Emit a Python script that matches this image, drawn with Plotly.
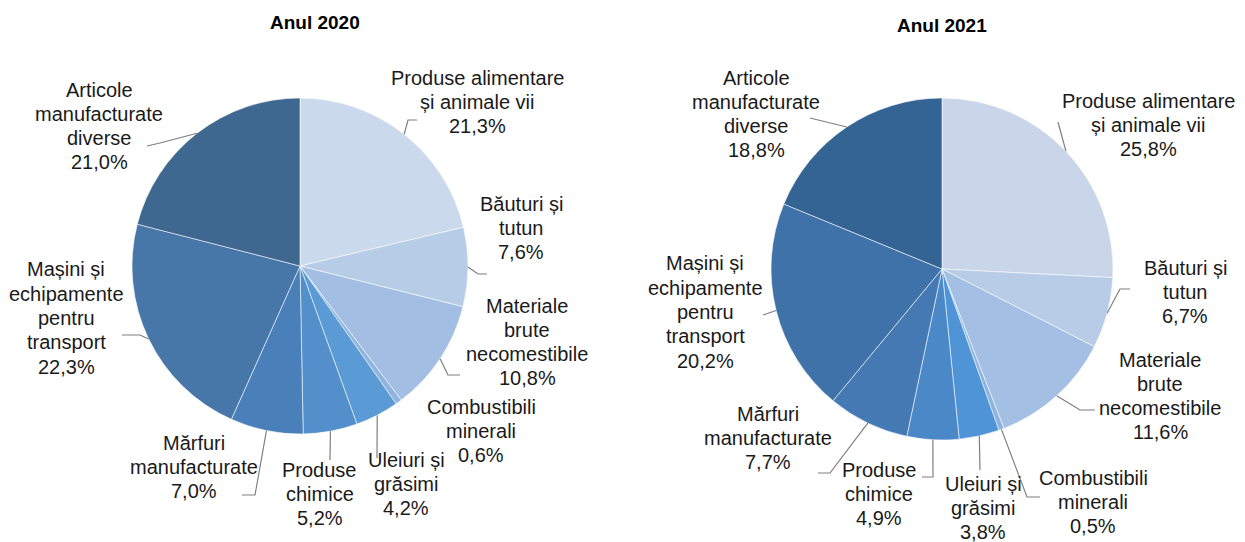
import math
import plotly.graph_objects as go

# ---------------- data ----------------
categories = [
    "Produse alimentare<br>și animale vii",
    "Băuturi și<br>tutun",
    "Materiale<br>brute<br>necomestibile",
    "Combustibili<br>minerali",
    "Uleiuri și<br>grăsimi",
    "Produse<br>chimice",
    "Mărfuri<br>manufacturate",
    "Mașini și<br>echipamente<br>pentru<br>transport",
    "Articole<br>manufacturate<br>diverse",
]
values_2020 = [21.3, 7.6, 10.8, 0.6, 4.2, 5.2, 7.0, 22.3, 21.0]
values_2021 = [25.8, 6.7, 11.6, 0.5, 3.8, 4.9, 7.7, 20.2, 18.8]
titles = ["Anul 2020", "Anul 2021"]

colors_2020 = ["#CBD9EC", "#B7CCE7", "#A2BEE2", "#8FB4E0", "#5A9BD6",
               "#5390CB", "#4A80B9", "#4677A8", "#3E6890"]
colors_2021 = ["#C9D6EA", "#B8CCE8", "#A3BFE3", "#8FB3E0", "#4E94D6",
               "#4A88C8", "#4479B4", "#3F72A8", "#336493"]

# ---------------- layout (pixels) ----------------
W, H = 1245, 542
LINE_H = 24.3
pies = [
    dict(cx=300, cy=266, r=168,
         title_xy=(315, 22),
         labels=[(477, 102), (521, 228), (527, 342), (481, 431), (406, 484),
                 (320, 494), (194, 467), (66, 318), (99, 126)],
         leaders=[[(408, 120), (417, 120)],
                  [(478, 274), (487, 274)],
                  [(448, 375), (460, 375)],
                  None,
                  [(377, 458)],
                  [(330, 460)],
                  [(255, 495), (242, 495)],
                  [(140, 335), (122, 335)],
                  [(160, 143), (147, 146)]]),
    dict(cx=942, cy=269, r=171,
         title_xy=(942, 25),
         labels=[(1148, 125), (1185, 292), (1160, 396), (1093, 502), (983, 508),
                 (879, 494), (768, 438), (705, 312), (756, 114)],
         leaders=[[(1058, 122)],
                  [(1120, 289), (1130, 289)],
                  [(1080, 410), (1095, 410)],
                  [(1027, 497), (1040, 497)],
                  [(980, 470)],
                  [(933, 477), (922, 477)],
                  [(830, 473), (818, 473)],
                  [(763, 315)],
                  [(810, 118)]]),
]


def px(x, y):
    return x / W, 1 - y / H


fig = go.Figure()
annotations = []
shapes = []
for values, colors, title, cfg in zip([values_2020, values_2021],
                                      [colors_2020, colors_2021], titles, pies):
    cx, cy, r = cfg["cx"], cfg["cy"], cfg["r"]
    fig.add_trace(go.Pie(
        labels=[c.replace("<br>", " ") for c in categories],
        values=values,
        sort=False,
        direction="clockwise",
        rotation=0,
        marker=dict(colors=colors, line=dict(color="rgba(255,255,255,0.7)", width=0.8)),
        textinfo="none",
        hoverinfo="label+percent",
        showlegend=False,
        domain=dict(x=[(cx - r) / W, (cx + r) / W],
                    y=[1 - (cy + r) / H, 1 - (cy - r) / H]),
    ))
    tx, ty = px(*cfg["title_xy"])
    annotations.append(dict(x=tx, y=ty, xref="paper", yref="paper", text="<b>" + title + "</b>",
                            showarrow=False, xanchor="center", yanchor="middle",
                            font=dict(family="Liberation Sans, Arial", size=19, color="#000000")))
    total = sum(values)
    cum = 0.0
    for i, v in enumerate(values):
        mid = (cum + v / 2) / total * 2 * math.pi
        cum += v
        lx, ly = cfg["labels"][i]
        pct = f"{v:.1f}".replace(".", ",") + "%"
        lines = categories[i].split("<br>") + [pct]
        n = len(lines)
        for k, line in enumerate(lines):
            ax, ay = px(lx, ly + (k - (n - 1) / 2) * LINE_H)
            annotations.append(dict(x=ax, y=ay, xref="paper", yref="paper", text=line,
                                    showarrow=False, xanchor="center", yanchor="middle",
                                    font=dict(family="Liberation Sans, Arial", size=20,
                                              color="#1a1a1a")))
        pts = cfg["leaders"][i]
        if pts:
            ex, ey = cx + r * math.sin(mid), cy - r * math.cos(mid)
            path_pts = [(ex, ey)] + pts
            path = "M " + " L ".join(f"{px(a, b)[0]},{px(a, b)[1]}" for a, b in path_pts)
            shapes.append(dict(type="path", path=path, xref="paper", yref="paper",
                               line=dict(color="#7f7f7f", width=1.2)))

fig.update_layout(
    width=W, height=H,
    margin=dict(l=0, r=0, t=0, b=0),
    paper_bgcolor="white", plot_bgcolor="white",
    annotations=annotations,
    shapes=shapes,
)
fig.write_html("out.html",
               config={"displayModeBar": False},
               post_script="document.body.style.margin='0px';"
                           "document.body.style.overflow='hidden';")
